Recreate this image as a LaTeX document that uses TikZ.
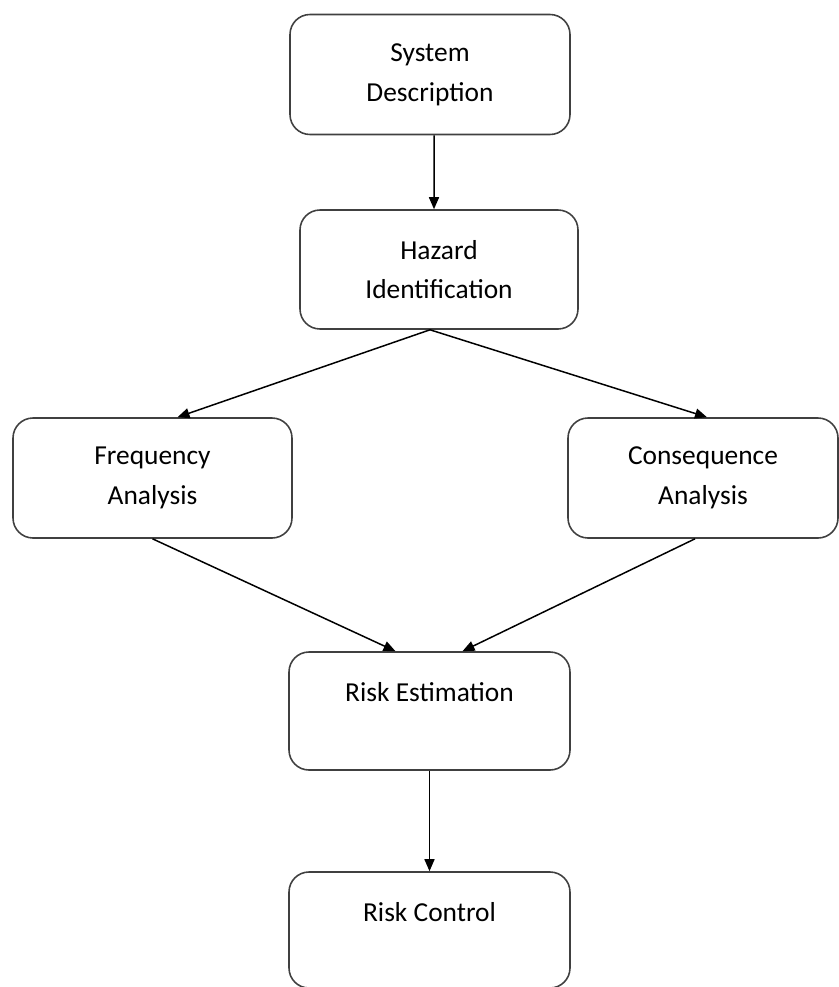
\documentclass[tikz,border=0pt]{standalone}
\usepackage{fontspec}
\setmainfont{Carlito}
\usetikzlibrary{arrows.meta,positioning}

\begin{document}
\begin{tikzpicture}[>={Triangle[length=0.24cm,width=0.2cm]},
  font=\fontsize{15.6}{22.6}\selectfont,
  stepbox/.style={draw=black!75, line width=0.9pt, rounded corners=0.4cm, align=center, inner sep=0pt, minimum width=5.6cm, minimum height=2.4cm},
  link/.style={->, line width=0.85pt}]
\useasboundingbox (0,0) rectangle (16.78,-19.74);
\node[stepbox] (sys) at (8.6,-1.49) {System\\Description};
\node[stepbox, minimum width=5.56cm, minimum height=2.38cm] (haz) at (8.78,-5.39) {Hazard\\Identification};
\node[stepbox, minimum width=5.58cm] (freq) at (3.05,-9.56) {Frequency\\Analysis};
\node[stepbox, minimum width=5.4cm] (cons) at (14.06,-9.56) {Consequence\\Analysis};
\node[stepbox, minimum width=5.62cm, minimum height=2.36cm] (est) at (8.59,-14.22) {Risk Estimation\\[-8pt]\strut};
\node[stepbox, minimum width=5.62cm, minimum height=2.32cm] (ctrl) at (8.59,-18.6) {Risk Control\\[-9pt]\strut};
\draw[link] ([xshift=0.08cm]sys.south) -- ([xshift=-0.1cm]haz.north);
\draw[link] ([xshift=-0.18cm]haz.south) -- ([xshift=0.5cm]freq.north);
\draw[link] ([xshift=-0.18cm]haz.south) -- ([xshift=0.08cm]cons.north);
\draw[link] (freq.south) -- ([xshift=-0.68cm]est.north);
\draw[link] ([xshift=-0.16cm]cons.south) -- ([xshift=0.66cm]est.north);
\draw[link] (est.south) -- (ctrl.north);
\end{tikzpicture}
\end{document}
